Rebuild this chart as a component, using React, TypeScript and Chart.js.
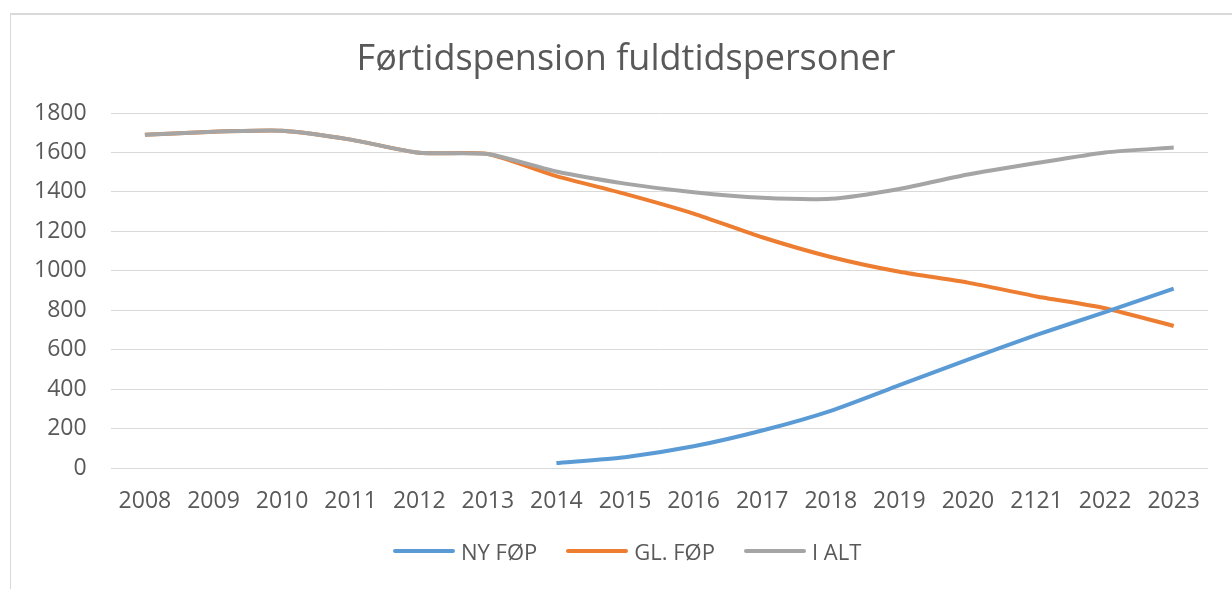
import React, { useEffect, useRef } from "react";
import { Chart, registerables } from "chart.js";

Chart.register(...registerables);

const categories = ["2008", "2009", "2010", "2011", "2012", "2013", "2014", "2015", "2016", "2017", "2018", "2019", "2020", "2121", "2022", "2023"];
const nyFop = [null, null, null, null, null, null, 25, 55, 110, 190, 290, 420, 550, 675, 790, 910];
const glFop = [1690, 1705, 1710, 1665, 1598, 1592, 1480, 1390, 1290, 1170, 1070, 995, 940, 870, 810, 720];
const iAlt = [1690, 1705, 1710, 1665, 1598, 1592, 1503, 1442, 1398, 1370, 1365, 1415, 1488, 1546, 1600, 1625];
const yTicks = [0, 200, 400, 600, 800, 1000, 1200, 1400, 1600, 1800];
const titleText = "Førtidspension fuldtidspersoner";
const seriesNames = ["NY FØP", "GL. FØP", "I ALT"];
const seriesColors = ["#5B9BD5", "#ED7D31", "#A5A5A5"];

const FONT = "'Open Sans', 'Noto Sans', sans-serif";
const TXT = "#595959";

export default function App() {
  const ref = useRef<HTMLCanvasElement | null>(null);
  useEffect(() => {
    if (!ref.current) return;
    const values = [nyFop, glFop, iAlt];
    const chart = new Chart(ref.current, {
      type: "line",
      data: {
        labels: categories,
        datasets: values.map((d, i) => ({
          label: seriesNames[i],
          data: d,
          borderColor: seriesColors[i],
          backgroundColor: seriesColors[i],
          borderWidth: 4,
          pointRadius: 0,
          tension: 0.2,
          order: i === 2 ? 1 : 2,
        })),
      },
      options: {
        animation: false,
        responsive: false,
        layout: { padding: { top: 113, left: 10, right: 24, bottom: 62 } },
        plugins: {
          title: { display: false },
          legend: { display: false },
          tooltip: { enabled: false },
        },
        scales: {
          x: {
            offset: true,
            grid: { display: false },
            border: { display: false },
            ticks: { color: TXT, font: { family: FONT, size: 23, lineHeight: 1.0 }, maxRotation: 0, autoSkip: false, padding: 14 },
          },
          y: {
            min: 0,
            max: 1800,
            afterBuildTicks: (axis: any) => { axis.ticks = yTicks.map((v) => ({ value: v })); },
            grid: { color: "#D9D9D9", lineWidth: 1, drawTicks: false },
            border: { display: false },
            ticks: { color: TXT, font: { family: FONT, size: 23 }, padding: 24, callback: (v: any) => String(v) },
          },
        },
      },
    });
    return () => chart.destroy();
  }, []);
  return (
    <div style={{ position: "fixed", left: 0, top: 0, width: 1232, height: 589, background: "#fff" }}>
      <div style={{ position: "absolute", left: 10, top: 13, width: 1240, height: 600, borderTop: "2px solid #D9D9D9", borderLeft: "1px solid #D9D9D9" }} />
      <canvas ref={ref} width={1232} height={589} style={{ position: "absolute", left: 0, top: 0 }} />
      <div style={{ position: "absolute", left: 326, width: 600, top: 35, textAlign: "center", fontFamily: FONT, fontSize: 36, lineHeight: "44px", color: TXT, whiteSpace: "nowrap" }}>{titleText}</div>
      <div style={{ position: "absolute", left: 393, top: 537, height: 28, display: "flex", alignItems: "center", fontFamily: FONT, fontSize: 22, color: TXT, whiteSpace: "nowrap" }}>
        {seriesNames.map((n, i) => (
          <div key={n} style={{ display: "flex", alignItems: "center", marginRight: 29 }}>
            <span style={{ display: "inline-block", width: 62, height: 4, borderRadius: 2, background: seriesColors[i], marginRight: 6 }} />
            <span>{n}</span>
          </div>
        ))}
      </div>
    </div>
  );
}
